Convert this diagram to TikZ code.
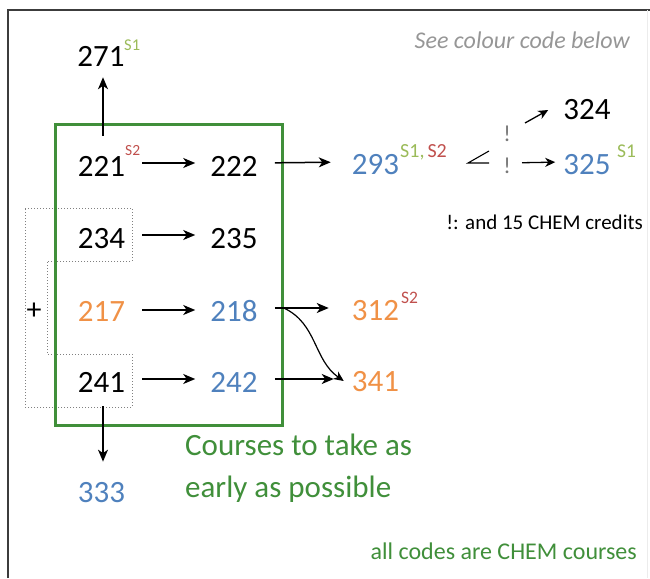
\documentclass[tikz,border=0pt]{standalone}
\usepackage{fontspec}
\setmainfont{Carlito}
\usetikzlibrary{arrows.meta}
\definecolor{boxgreen}{RGB}{64,143,58}
\definecolor{cblue}{RGB}{79,129,189}
\definecolor{corange}{RGB}{240,145,70}
\definecolor{sone}{RGB}{155,187,89}
\definecolor{stwo}{RGB}{192,80,77}
\definecolor{notegray}{RGB}{150,150,150}
\tikzset{
  num/.style={font=\fontsize{31}{36}\selectfont, inner sep=0pt},
  supx/.style={font=\fontsize{#1}{#1}\selectfont, inner sep=0pt, anchor=west},
  arr/.style={-{Stealth[length=12pt,width=10pt,inset=3.5pt]}, line width=1.5pt},
  sarr/.style={-{Stealth[length=10pt,width=9pt,inset=3pt]}, line width=1.3pt},
  framel/.style={line width=2.2pt, draw={rgb,255:red,60;green,60;blue,60}},
}
\begin{document}
\begin{tikzpicture}[x=1pt,y=-1pt]
\useasboundingbox (0,0) rectangle (650,578);
% frame
\draw[framel] (8,578) -- (8,10) -- (650,10);
\draw[line width=1pt, gray!15] (647,10) -- (647,578);
% dotted group
\draw[dotted, line width=1pt, gray] (25,208) -- (132,208) -- (132,261) -- (47,261) -- (47,354) -- (132,354) -- (132,407) -- (25,407) -- cycle;
% green box
\draw[line width=3pt, boxgreen] (55,124) rectangle (282,425);
% nodes
\node[num] (n271) at (101,56) {271};
\node[supx=16.5, sone] (s271) at (124,45) {S1};
\node[num] (n221) at (101.5,166) {221};
\node[supx=15.5, stwo] (s221) at (125,151) {S2};
\node[num] (n222) at (234,166) {222};
\node[num, cblue] (n293) at (375.5,165) {293};
\node[supx=20] (s293) at (400,152) {\textcolor{sone}{S1,}\kern3pt\textcolor{stwo}{S2}};
\node[num] (n324) at (587,110) {324};
\node[num, cblue] (n325) at (587,165) {325};
\node[supx=19.5, sone] (s325) at (617,151) {S1};
\node[font=\fontsize{23}{23}\selectfont, text={rgb,255:red,120;green,120;blue,120}, inner sep=0pt] (bangU) at (507,134) {!};
\node[font=\fontsize{23}{23}\selectfont, text={rgb,255:red,120;green,120;blue,120}, inner sep=0pt] (bangL) at (507,166) {!};
\node[font=\fontsize{21}{21}\selectfont, inner sep=0pt, anchor=east] (note) at (643,222) {!: and 15 CHEM credits};
\node[font=\fontsize{24}{24}\selectfont\itshape, notegray, inner sep=0pt, anchor=east] (see) at (630,40) {See colour code below};
\node[num] (n234) at (101.5,239) {234};
\node[num] (n235) at (234,239) {235};
\node[num, corange] (n217) at (101.5,311) {217};
\node[num, cblue] (n218) at (234,311) {218};
\node[num, corange] (n312) at (375.5,311) {312};
\node[supx=17.5, stwo] (s312) at (401,298) {S2};
\node[num] (n241) at (101.5,382) {241};
\node[num, cblue] (n242) at (234,382) {242};
\node[num, corange] (n341) at (375.5,382) {341};
\node[num, cblue] (n333) at (101.5,493) {333};
\node[font=\fontsize{30}{30}\selectfont, inner sep=0pt] (plus) at (34,311) {+};
\node[font=\fontsize{31}{42}\selectfont, boxgreen, inner sep=0pt, anchor=west, align=left] (courses) at (185,468) {Courses to take as\\early as possible};
\node[font=\fontsize{24}{24}\selectfont, boxgreen, inner sep=0pt, anchor=east] (allc) at (637,551) {all codes are CHEM courses};
% angle symbol
\draw[line width=1.1pt] (489,151) -- (468,163) -- (489,163);
% arrows
\draw[arr, shorten <=20pt, shorten >=11pt] ([xshift=1.5pt]n221.north) -- ([xshift=2pt]n271.south);
\draw[arr, shorten <=17pt, shorten >=15pt] ([yshift=3pt]n221.east) -- ([yshift=3pt]n222.west);
\draw[arr, shorten <=17pt, shorten >=21pt] ([yshift=3pt]n222.east) -- ([yshift=3pt]n293.west);
\draw[arr, shorten <=17pt, shorten >=15pt] ([yshift=4pt]n234.east) -- ([yshift=4pt]n235.west);
\draw[arr, shorten <=17pt, shorten >=15pt] ([yshift=1pt]n217.east) -- ([yshift=1pt]n218.west);
\draw[arr, shorten <=17pt, shorten >=23pt] ([yshift=3pt]n218.east) -- ([yshift=3pt]n312.west);
\draw[arr, shorten <=17pt, shorten >=15pt] ([yshift=3pt]n241.east) -- ([yshift=3pt]n242.west);
\draw[arr, shorten <=17pt, shorten >=18pt] ([yshift=3pt]n242.east) -- ([yshift=3pt]n341.west);
\draw[sarr, line width=1.2pt] ([xshift=26pt,yshift=3pt]n218.east) to[out=-25,in=145] ([xshift=-8pt,yshift=1pt]n341.west);
\draw[arr, shorten <=14pt, shorten >=21pt] ([xshift=1.5pt]n241.south) -- ([xshift=1.5pt]n333.north);
\draw[sarr] ([xshift=18pt,yshift=11pt]bangU.center) -- ([xshift=-15pt]n324.west);
\draw[sarr, shorten <=15pt, shorten >=8pt] ([yshift=3pt]bangL.center) -- ([yshift=3pt]n325.west);
\end{tikzpicture}
\end{document}
